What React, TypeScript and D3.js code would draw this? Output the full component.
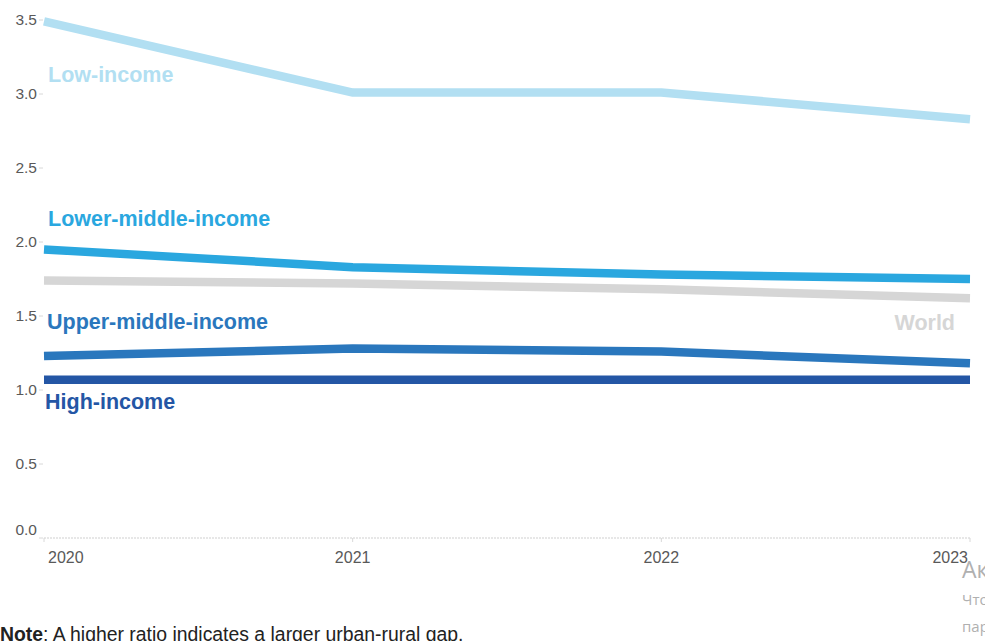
import React from "react";
import * as d3 from "d3";

const years = [2020, 2021, 2022, 2023];
const lowIncome = [3.49, 3.01, 3.01, 2.83];
const lowerMiddle = [1.95, 1.83, 1.78, 1.75];
const world = [1.74, 1.72, 1.68, 1.62];
const upperMiddle = [1.23, 1.28, 1.26, 1.18];
const highIncome = [1.07, 1.07, 1.07, 1.07];
const yTicks = [0, 0.5, 1.0, 1.5, 2.0, 2.5, 3.0, 3.5];

const seriesList = [
  { name: "World", values: world, color: "#d6d6d6" },
  { name: "Low-income", values: lowIncome, color: "#b2dff2" },
  { name: "Lower-middle-income", values: lowerMiddle, color: "#2aa7df" },
  { name: "Upper-middle-income", values: upperMiddle, color: "#2a77bd" },
  { name: "High-income", values: highIncome, color: "#2456a5" },
];

export default function App() {
  const W = 985, H = 641;
  const x = d3.scalePoint<number>().domain(years).range([44, 970]);
  const y = d3.scaleLinear().domain([0, 3.5]).range([538, 20]);
  const line = d3
    .line<number>()
    .x((_, i) => x(years[i]) as number)
    .y((d) => y(d))
    .curve(d3.curveLinear);
  const font = "'Liberation Sans', Arial, sans-serif";
  const labels = [
    { text: "Low-income", x: 48, y: 82, color: "#b2dff2", anchor: "start" },
    { text: "Lower-middle-income", x: 48, y: 226, color: "#2aa7df", anchor: "start" },
    { text: "Upper-middle-income", x: 47, y: 329, color: "#2a77bd", anchor: "start" },
    { text: "High-income", x: 45, y: 409, color: "#2456a5", anchor: "start" },
    { text: "World", x: 955, y: 330, color: "#d6d6d6", anchor: "end" },
  ];
  return (
    <svg
      width={W}
      height={H}
      style={{ position: "absolute", left: 0, top: 0, background: "#fff" }}
      fontFamily={font}
    >
      <line x1={44} x2={970} y1={y(0)} y2={y(0)} stroke="#cfcfcf" strokeWidth={1.2} strokeDasharray="2,1" />
      {years.map((yr) => (
        <line key={yr} x1={x(yr)} x2={x(yr)} y1={y(0)} y2={y(0) + 4} stroke="#d8d8d8" strokeWidth={1} />
      ))}
      {yTicks.map((t) => (
        <g key={t}>
          <line x1={39} x2={43} y1={y(t)} y2={y(t)} stroke="#d8d8d8" strokeWidth={1} />
          <text
            x={37}
            y={t === 0 ? y(t) - 8 : y(t)}
            dy="0.35em"
            textAnchor="end"
            fontSize={15.5}
            fill="#595959"
          >
            {t.toFixed(1)}
          </text>
        </g>
      ))}
      {years.map((yr, i) => (
        <text
          key={yr}
          x={i === 0 ? 48 : i === years.length - 1 ? 968 : (x(yr) as number)}
          y={563}
          textAnchor={i === 0 ? "start" : i === years.length - 1 ? "end" : "middle"}
          fontSize={16}
          fill="#595959"
        >
          {yr}
        </text>
      ))}
      {seriesList.map((s) => (
        <path key={s.name} d={line(s.values) || ""} fill="none" stroke={s.color} strokeWidth={8.5} />
      ))}
      {labels.map((l) => (
        <text
          key={l.text}
          x={l.x}
          y={l.y}
          textAnchor={l.anchor as any}
          fontSize={21.5}
          fontWeight="bold"
          fill={l.color}
        >
          {l.text}
        </text>
      ))}
      <text x={0} y={641} fontSize={19.4} fill="#222">
        <tspan fontWeight="bold">Note</tspan>: A higher ratio indicates a larger urban-rural gap.
      </text>
      <text x={962} y={578} fontSize={23} fill="#b0b0b0" fontFamily="'Segoe UI', 'Open Sans', sans-serif">
        Активация Windows
      </text>
      <text x={962} y={605} fontSize={15} fill="#b0b0b0" fontFamily="'Segoe UI', 'Open Sans', sans-serif">
        Чтобы активировать Windows, перейдите в раздел
      </text>
      <text x={962} y={632} fontSize={15} fill="#b0b0b0" fontFamily="'Segoe UI', 'Open Sans', sans-serif">
        параметры.
      </text>
    </svg>
  );
}
